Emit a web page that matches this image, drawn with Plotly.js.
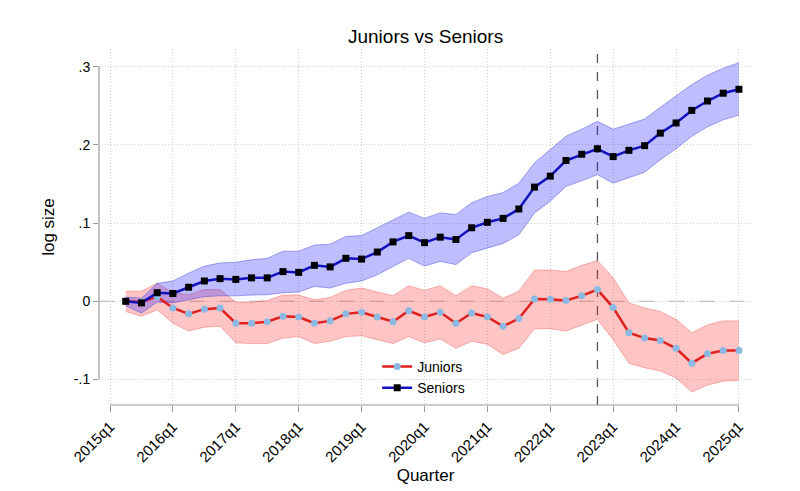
<!DOCTYPE html>
<html>
<head>
<meta charset="utf-8">
<script src="https://cdn.plot.ly/plotly-3.0.1.min.js"></script>
<style>html,body{margin:0;padding:0;background:#fff;}#chart{width:800px;height:491px;}</style>
</head>
<body>
<div id="chart"></div>
<script>
var quarters = ["2015q2","2015q3","2015q4","2016q1","2016q2","2016q3","2016q4","2017q1","2017q2","2017q3","2017q4","2018q1","2018q2","2018q3","2018q4","2019q1","2019q2","2019q3","2019q4","2020q1","2020q2","2020q3","2020q4","2021q1","2021q2","2021q3","2021q4","2022q1","2022q2","2022q3","2022q4","2023q1","2023q2","2023q3","2023q4","2024q1","2024q2","2024q3","2024q4","2025q1"];

var juniors = [0,-0.001,0.006,-0.0085,-0.016,-0.010,-0.0085,-0.028,-0.028,-0.026,-0.019,-0.020,-0.028,-0.025,-0.016,-0.014,-0.020,-0.026,-0.012,-0.020,-0.014,-0.028,-0.015,-0.020,-0.032,-0.022,0.003,0.0025,0.001,0.007,0.015,-0.008,-0.040,-0.047,-0.050,-0.060,-0.079,-0.067,-0.063,-0.063];
var juniorsHi = [0.013,0.013,0.023,0.011,0.0085,0.015,0.015,-0.001,-0.001,0.001,0.008,0.008,0.002,0.005,0.014,0.017,0.012,0.007,0.020,0.014,0.020,0.007,0.020,0.016,0.004,0.013,0.040,0.040,0.038,0.046,0.052,0.030,-0.002,-0.0085,-0.013,-0.023,-0.040,-0.030,-0.025,-0.025];
var juniorsLo = [-0.013,-0.019,-0.011,-0.028,-0.038,-0.033,-0.032,-0.053,-0.054,-0.054,-0.047,-0.045,-0.054,-0.051,-0.045,-0.044,-0.049,-0.054,-0.045,-0.053,-0.048,-0.060,-0.051,-0.055,-0.068,-0.060,-0.035,-0.035,-0.038,-0.031,-0.023,-0.049,-0.079,-0.085,-0.089,-0.098,-0.116,-0.107,-0.102,-0.101];

var seniors = [0,-0.002,0.011,0.010,0.018,0.026,0.029,0.028,0.030,0.030,0.038,0.037,0.046,0.044,0.055,0.054,0.063,0.076,0.084,0.075,0.082,0.079,0.094,0.101,0.106,0.118,0.146,0.160,0.180,0.188,0.195,0.185,0.193,0.199,0.215,0.228,0.244,0.256,0.266,0.271];
var seniorsHi = [0.0055,0.004,0.023,0.026,0.036,0.045,0.049,0.050,0.053,0.055,0.064,0.064,0.072,0.073,0.083,0.084,0.094,0.104,0.114,0.106,0.113,0.111,0.126,0.134,0.139,0.151,0.177,0.194,0.211,0.220,0.230,0.220,0.227,0.233,0.248,0.262,0.277,0.289,0.298,0.305];
var seniorsLo = [-0.006,-0.015,-0.001,-0.002,0.002,0.006,0.007,0.007,0.008,0.0085,0.011,0.012,0.019,0.017,0.023,0.026,0.034,0.045,0.055,0.045,0.051,0.047,0.062,0.068,0.074,0.085,0.113,0.128,0.147,0.154,0.162,0.151,0.158,0.165,0.181,0.195,0.211,0.223,0.232,0.238];

var tickLabels = ["2015q1","2016q1","2017q1","2018q1","2019q1","2020q1","2021q1","2022q1","2023q1","2024q1","2025q1"];
var yTickVals = [-0.1, 0, 0.1, 0.2, 0.3];
var yTickText = ["-.1", "0", ".1", ".2", ".3"];
var eventQuarter = "2022q4";

function qIndex(s) {
  var y = parseInt(s.slice(0, 4), 10);
  var q = parseInt(s.slice(5), 10);
  return (y - 2015) * 4 + (q - 1);
}
var xs = quarters.map(qIndex);
var xTickVals = tickLabels.map(qIndex);
var FONT = "Liberation Sans, Arial, Helvetica, sans-serif";

var traces = [
  {x: xs, y: juniorsLo, mode: "lines", line: {color: "rgba(235,90,90,0.55)", width: 0.8}, showlegend: false, hoverinfo: "skip"},
  {x: xs, y: juniorsHi, mode: "lines", fill: "tonexty", fillcolor: "rgba(255,40,40,0.27)", line: {color: "rgba(235,90,90,0.55)", width: 0.8}, showlegend: false, hoverinfo: "skip"},
  {x: xs, y: seniorsLo, mode: "lines", line: {color: "rgba(60,60,220,0.55)", width: 0.8}, showlegend: false, hoverinfo: "skip"},
  {x: xs, y: seniorsHi, mode: "lines", fill: "tonexty", fillcolor: "rgba(40,40,255,0.30)", line: {color: "rgba(60,60,220,0.55)", width: 0.8}, showlegend: false, hoverinfo: "skip"},
  {x: xs, y: juniors, name: "Juniors", mode: "lines+markers", line: {color: "#e0201c", width: 2.5}, marker: {color: "#8bb9e2", size: 7, symbol: "circle"}},
  {x: xs, y: seniors, name: "Seniors", mode: "lines+markers", line: {color: "#1212c0", width: 2.5}, marker: {color: "#000000", size: 7, symbol: "square"}}
];

var layout = {
  width: 800, height: 491,
  margin: {l: 99, r: 48, t: 49, b: 86},
  paper_bgcolor: "#fff", plot_bgcolor: "#fff",
  font: {family: FONT, color: "#000", size: 14},
  title: {text: "Juniors vs Seniors", font: {family: FONT, size: 19, color: "#000"}, x: 0.532, xanchor: "center", y: 0.925, yanchor: "middle", xref: "container", yref: "container"},
  xaxis: {
    range: [-0.7, 40.83], tickvals: xTickVals, ticktext: tickLabels, tickangle: -45,
    ticks: "outside", ticklen: 6, tickcolor: "#999", tickwidth: 1,
    showgrid: true, gridcolor: "#cfcfcf", griddash: "1px,2px", gridwidth: 1,
    showline: false, zeroline: false, tickfont: {size: 15, family: FONT},
    title: {text: "Quarter", font: {size: 17, family: FONT}, standoff: 4}
  },
  yaxis: {
    range: [-0.1325, 0.3225], tickvals: yTickVals, ticktext: yTickText,
    ticks: "outside", ticklen: 5, tickcolor: "#999", tickwidth: 1,
    showgrid: true, gridcolor: "#cfcfcf", griddash: "1px,2px", gridwidth: 1,
    showline: false, zeroline: false, tickfont: {size: 14, family: FONT},
    title: {text: "log size", font: {size: 17, family: FONT}, standoff: 14}
  },
  legend: {x: 0.426, xanchor: "left", y: 0.152, yanchor: "top", traceorder: "normal", bgcolor: "rgba(0,0,0,0)", font: {size: 14, family: FONT}, tracegroupgap: 0},
  shapes: [
    {type: "line", xref: "paper", x0: 0, x1: 1, yref: "y", y0: 0, y1: 0, line: {color: "#bdbdbd", width: 1.2, dash: "longdash"}, layer: "below"},
    {type: "line", xref: "x", x0: qIndex(eventQuarter), x1: qIndex(eventQuarter), yref: "paper", y0: 0, y1: 1, line: {color: "#555", width: 1.3, dash: "dash"}, layer: "below"},
    {type: "line", xref: "paper", x0: 0, x1: 0, yref: "y", y0: -0.1, y1: 0.3, line: {color: "#999", width: 1.2}},
    {type: "line", xref: "x", x0: 0, x1: 40, yref: "paper", y0: 0, y1: 0, line: {color: "#999", width: 1.2}}
  ]
};

Plotly.newPlot("chart", traces, layout, {staticPlot: true, displayModeBar: false});
</script>
</body>
</html>
